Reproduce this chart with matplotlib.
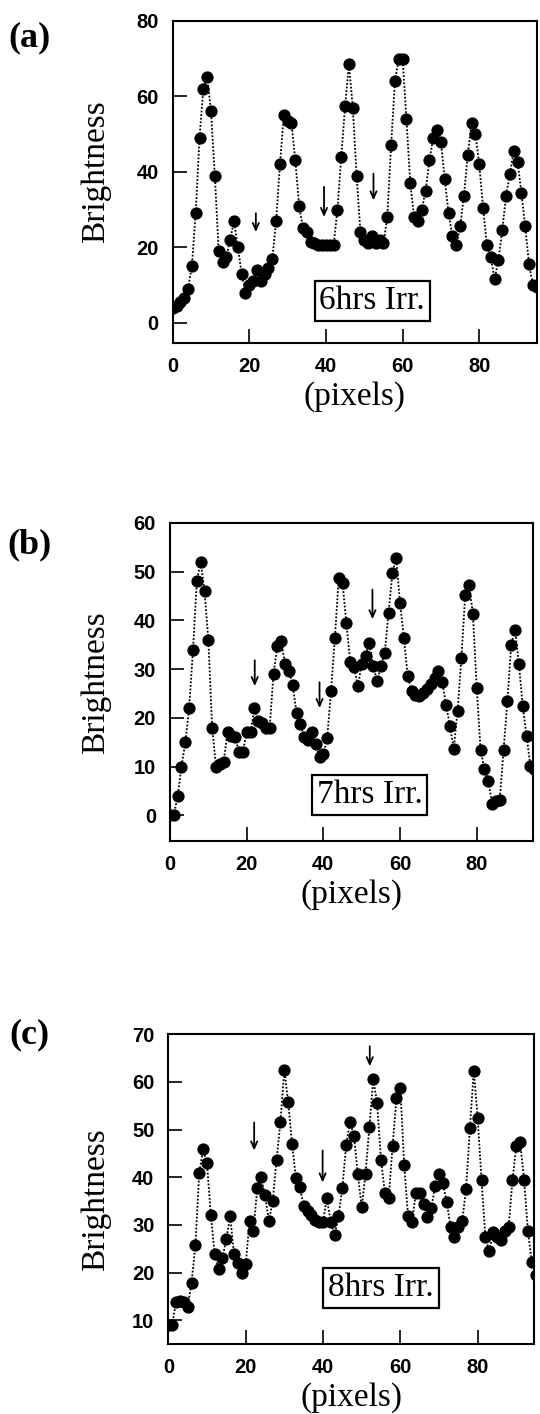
import numpy as np
import matplotlib.pyplot as plt

plt.rcParams['font.family'] = ['Liberation Serif', 'DejaVu Serif']

# brightness profiles along the line scan, one point per pixel
bright_a = [4, 4.5, 5.5, 6.5, 9, 15, 29, 49, 62, 65,
            56, 39, 19, 16, 17.5, 22, 27, 20, 13, 8,
            10, 11, 14, 11, 13, 14.5, 17, 27, 42, 55,
            53.5, 53, 43, 31, 25, 24, 21.5, 21, 20.5, 20.5,
            20.5, 20.5, 20.5, 30, 44, 57.5, 68.5, 57, 39, 24,
            22, 21, 23, 21, 22, 21, 28, 47, 64, 70,
            70, 54, 37, 28, 27, 30, 35, 43, 49, 51,
            48, 38, 29, 23, 20.5, 25.5, 33.5, 44.5, 53, 50,
            42, 30.5, 20.5, 17.5, 11.5, 16.5, 24.5, 33.5, 39.5, 45.5,
            42.5, 34.5, 25.5, 15.5, 10, 9.5]

bright_b = [0, 0, 4, 10, 15, 22, 34, 48, 52, 46,
            36, 18, 10, 10.5, 11, 17, 16.3, 16, 13, 13,
            17, 17, 22, 19.3, 19, 18, 18, 29, 34.7, 35.7,
            31, 29.7, 26.7, 21, 18.8, 16, 15.5, 17, 14.6, 12,
            12.6, 15.8, 25.6, 36.4, 48.6, 47.6, 39.5, 31.4, 30.5, 26.5,
            31, 32.7, 35.4, 30.6, 27.6, 30.6, 33.3, 41.5, 49.7, 52.7,
            43.5, 36.4, 28.6, 25.6, 24.6, 24.5, 25, 26, 27, 28.2,
            29.6, 27.4, 22.7, 18.4, 13.6, 21.4, 32.3, 45.2, 47.3, 41.3,
            26.2, 13.4, 9.5, 7.1, 2.4, 3, 3.2, 13.4, 23.5, 35,
            38.1, 31, 22.4, 16.3, 10.2, 9.5]

bright_c = [9, 9, 13.8, 14, 13.8, 12.8, 17.8, 25.8, 40.9, 45.9,
            42.9, 32, 23.8, 20.8, 23.1, 27.1, 31.8, 23.8, 21.9, 19.8,
            21.7, 30.9, 28.8, 37.7, 40, 36.2, 30.9, 35, 43.7, 51.7,
            62.6, 55.7, 47, 39.8, 38, 34, 33, 32, 31, 30.6,
            30.6, 35.7, 30.6, 27.8, 31.8, 37.7, 46.8, 51.7, 48.7, 40.7,
            33.7, 40.7, 50.6, 60.6, 55.5, 43.6, 36.8, 35.7, 46.6, 56.6,
            58.7, 42.6, 31.8, 30.6, 36.6, 36.6, 34.4, 31.6, 33.5, 38.2,
            40.7, 38.7, 34.8, 29.5, 27.4, 29.5, 30.8, 37.5, 50.4, 62.4,
            52.5, 39.4, 27.4, 24.5, 28.5, 27.5, 26.9, 28.8, 29.5, 39.4,
            46.6, 47.3, 39.4, 28.7, 22.2, 19.4]

labels = ['6hrs Irr.', '7hrs Irr.', '8hrs Irr.']
letters = ['(a)', '(b)', '(c)']

# arrows: pixel position, start and end brightness
arrow_x = [[21.7, 39.5, 52.4], [22.1, 39.0, 52.8], [22.2, 39.9, 52.1]]
arrow_top = [[29, 36, 39.5], [31.8, 27.3, 46.3], [51.5, 45.6, 67.5]]
arrow_bot = [[24, 28, 32.4], [26.5, 22, 40.2], [45.6, 38.9, 63.3]]

yticks = [np.arange(0, 81, 20), np.arange(0, 61, 10), np.arange(10, 71, 10)]
ylims = [(-5.3, 80), (-5.2, 60), (5, 70)]
xmax = [95, 94.6, 94.5]

rects = [[0.3198, 0.7576, 0.6741, 0.2277],
         [0.3148, 0.4054, 0.6717, 0.2249],
         [0.3117, 0.0495, 0.6767, 0.2190]]
box_pos = [(0.548, 0.13), (0.551, 0.144), (0.582, 0.182)]
ylab_pos = [(-0.169, 0.53), (-0.163, 0.496), (-0.158, 0.465)]
letter_y = [0.9731, 0.6146, 0.268]

fig = plt.figure(figsize=(5.4, 14.14), dpi=100)

for i, y in enumerate([bright_a, bright_b, bright_c]):
    ax = fig.add_axes(rects[i])
    x = np.arange(len(y))
    ax.plot(x, y, color='k', ls=(0, (1, 1)), lw=1.3,
            marker='o', ms=7.8, mfc='k', mec='k')
    for ax_x, yt, yb in zip(arrow_x[i], arrow_top[i], arrow_bot[i]):
        ax.annotate('', xy=(ax_x, yb), xytext=(ax_x, yt),
                    arrowprops=dict(arrowstyle='->,head_length=0.5,head_width=0.22',
                                    lw=1.3, color='k', shrinkA=0, shrinkB=0))
    ax.text(box_pos[i][0], box_pos[i][1], labels[i], transform=ax.transAxes,
            fontsize=24, ha='center', va='center',
            bbox=dict(boxstyle='square,pad=0.14', fc='white', ec='k', lw=1.6))

    ax.set_xlim(0, xmax[i])
    ax.set_ylim(*ylims[i])
    ax.set_xticks(np.arange(0, 81, 20))
    ax.set_yticks(yticks[i])
    ax.tick_params(direction='in', length=10, width=1.2, labelsize=14.5,
                   pad=10, labelfontfamily='Liberation Sans')
    for t in ax.get_xticklabels() + ax.get_yticklabels():
        t.set_fontweight('bold')
    for s in ax.spines.values():
        s.set_linewidth(1.5)

    ax.set_ylabel('Brightness', fontsize=24)
    ax.yaxis.set_label_coords(*ylab_pos[i])
    ax.set_xlabel('(pixels)', fontsize=24, labelpad=4)

    fig.text(0.055, letter_y[i], letters[i], fontsize=26, fontweight='bold',
             ha='center', va='center')

fig.savefig('out.png', dpi=100)
